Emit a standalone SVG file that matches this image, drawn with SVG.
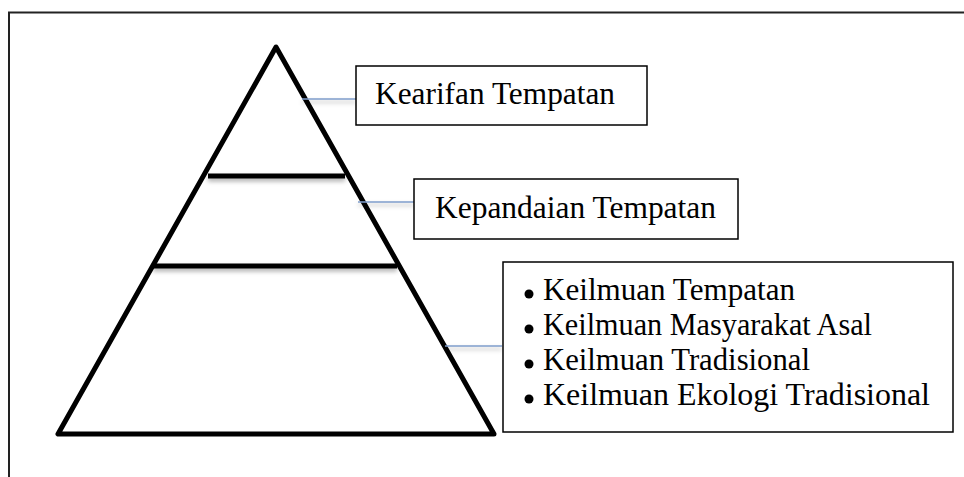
<svg xmlns="http://www.w3.org/2000/svg" width="964" height="477" viewBox="0 0 964 477">
<defs>
<style>
.frame{fill:none;stroke:#222;stroke-width:2}
.tri{fill:none;stroke:#000;stroke-width:5;stroke-linejoin:round;stroke-linecap:round}
.bar{fill:#000}
.box{fill:#fff;stroke:#000;stroke-width:1.5}
.conn{stroke:#7f9ccb;stroke-width:1.5;fill:none}
.lbl{font-family:"Liberation Serif","Times New Roman",serif;font-size:31px;fill:#000}
</style>
<filter id="sh" filterUnits="userSpaceOnUse" x="0" y="0" width="964" height="477">
<feDropShadow dx="0" dy="3" stdDeviation="2" flood-color="#000" flood-opacity="0.3"/>
</filter>
</defs>
<path class="frame" d="M9,477 V12.5 H964"/>
<g id="pyramid">
<polygon class="tri" points="276,47 58,434 494,434"/>
<rect class="bar" x="208" y="173.5" width="137" height="5" filter="url(#sh)"/>
<rect class="bar" x="153" y="263.5" width="244" height="5" filter="url(#sh)"/>
</g>
<g id="connectors" filter="url(#sh)">
<line class="conn" x1="302" y1="99" x2="356" y2="99"/>
<line class="conn" x1="358" y1="202" x2="414" y2="202"/>
<line class="conn" x1="445" y1="346" x2="502" y2="346"/>
</g>
<g id="node-kearifan">
<rect class="box" x="356" y="66" width="291" height="59"/>
<text class="lbl" x="375" y="104" textLength="240" lengthAdjust="spacingAndGlyphs">Kearifan Tempatan</text>
</g>
<g id="node-kepandaian">
<rect class="box" x="414" y="179" width="324" height="60"/>
<text class="lbl" x="435" y="218" textLength="281" lengthAdjust="spacingAndGlyphs">Kepandaian Tempatan</text>
</g>
<g id="node-keilmuan">
<rect class="box" x="503" y="262" width="450" height="170"/>
<circle cx="529" cy="294" r="4.5"/>
<circle cx="529" cy="329" r="4.5"/>
<circle cx="529" cy="364" r="4.5"/>
<circle cx="529" cy="399" r="4.5"/>
<text class="lbl" x="543" y="300" textLength="252" lengthAdjust="spacingAndGlyphs">Keilmuan Tempatan</text>
<text class="lbl" x="543" y="335" textLength="329" lengthAdjust="spacingAndGlyphs">Keilmuan Masyarakat Asal</text>
<text class="lbl" x="543" y="370" textLength="267" lengthAdjust="spacingAndGlyphs">Keilmuan Tradisional</text>
<text class="lbl" x="543" y="405" textLength="387" lengthAdjust="spacingAndGlyphs">Keilmuan Ekologi Tradisional</text>
</g>
</svg>
